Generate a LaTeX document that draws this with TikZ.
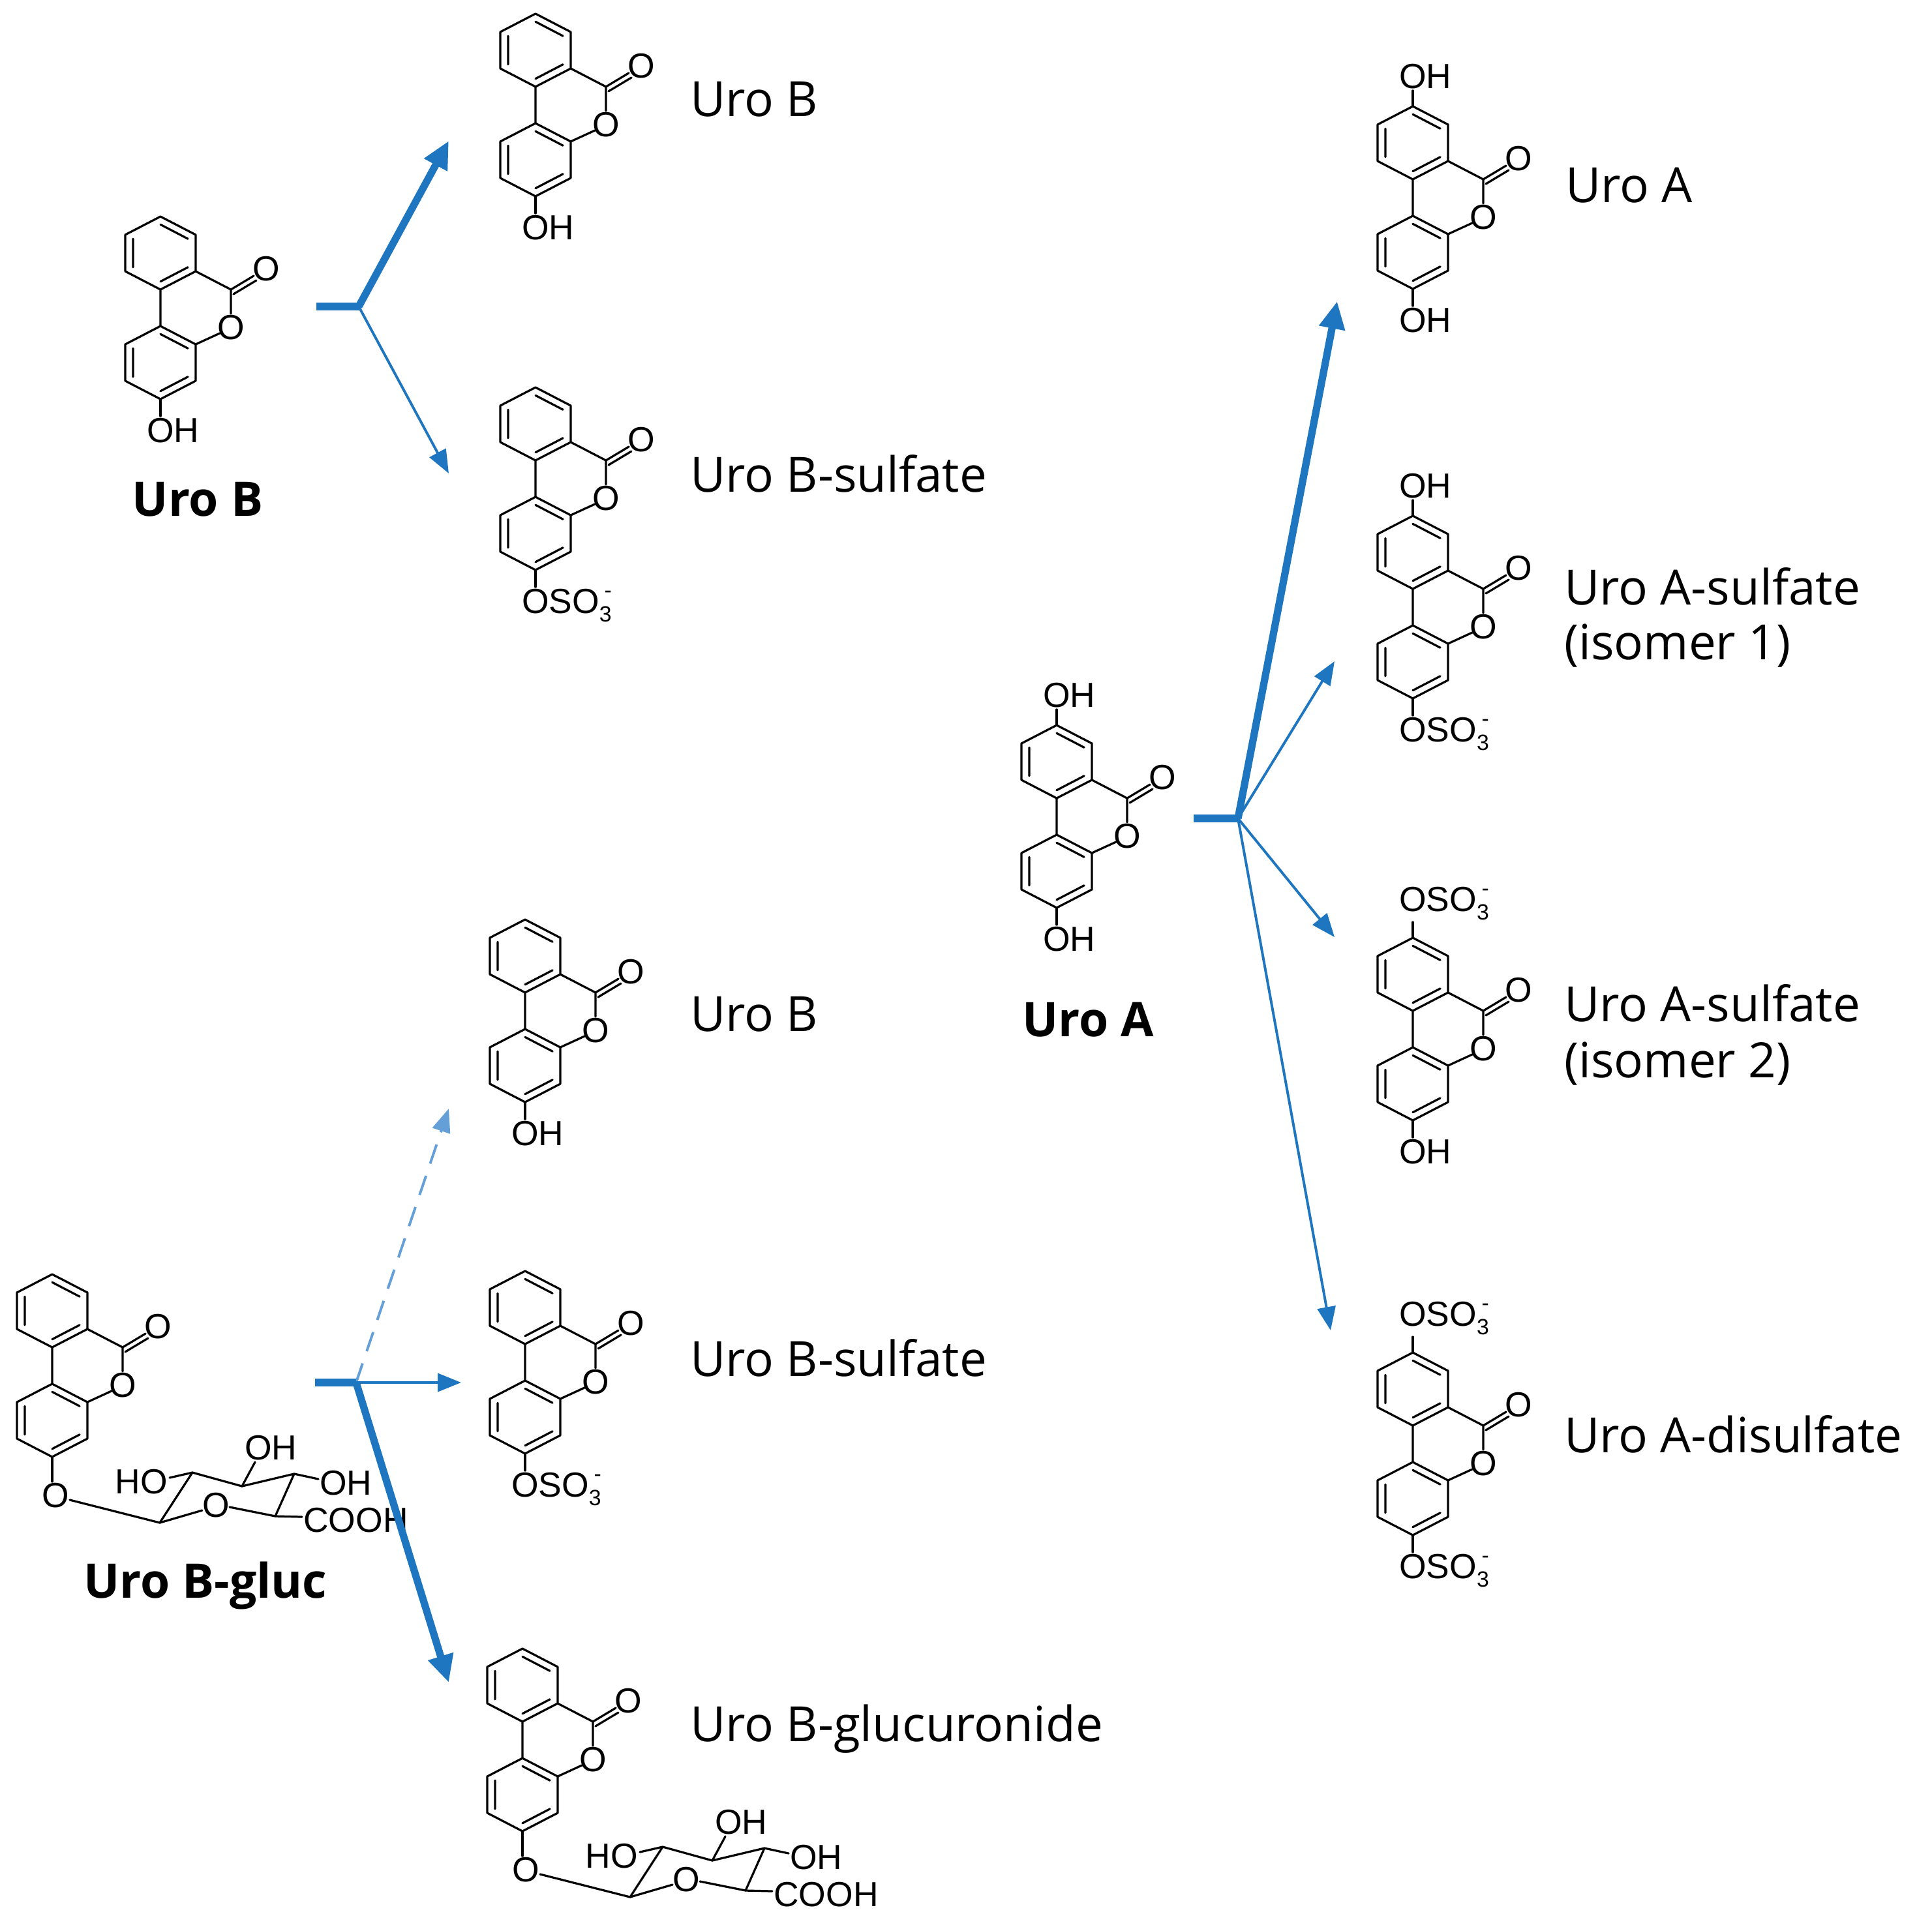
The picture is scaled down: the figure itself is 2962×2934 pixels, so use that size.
\documentclass[tikz,border=0pt]{standalone}
\usepackage{fontspec}
\setmainfont{Open Sans}
\newfontfamily\chemf{Liberation Sans}
\usetikzlibrary{arrows.meta}
\definecolor{arr}{RGB}{30,118,192}
\definecolor{arrl}{RGB}{100,160,215}
\tikzset{
 bond/.style={line width=2.3pt,line cap=round,line join=round},
 lab/.style={inner sep=0pt,font=\chemf\fontsize{38}{44}\selectfont},
 cname/.style={font=\fontsize{53}{62}\selectfont,anchor=west,inner sep=0pt},
 bname/.style={font=\bfseries\fontsize{52}{62}\selectfont,inner sep=0pt},
 thickarr/.style={arr,line width=8pt,-{Triangle[length=1.05cm,width=0.95cm]}},
 thinarr/.style={arr,line width=2.8pt,-{Triangle[length=0.9cm,width=0.7cm]}},
 dasharr/.style={arrl,line width=2.8pt,dash pattern=on 22pt off 14pt,-{Triangle[length=0.9cm,width=0.7cm]}},
 stub/.style={arr,line width=8pt}
}
\newcommand\uroskel[3]{%
\begin{scope}[shift={(#1,#2)}]
 \draw[bond] (0,-56)--(54,-28)--(54,28)--(0,56)--(-54,28)--(-54,-28)--cycle;
 \draw[bond] (0,-43.7)--(42.1,-21.8) (-42.1,21.8)--(-42.1,-21.8) (42.1,21.8)--(0,43.7);
 \draw[bond] (0,112)--(54,140)--(54,196)--(0,224)--(-54,196)--(-54,140)--cycle;
 \draw[bond] (0,124.3)--(42.1,146.2) (-42.1,189.8)--(-42.1,146.2) (42.1,189.8)--(0,211.7);
 \draw[bond] (0,56)--(0,112) (54,28)--(108,56)--(108,93) (91,123)--(54,140);
 \node[lab] at (108,114) {O};
 \draw[bond] (108,56)--(143,35) (112,63)--(147,42);
 \node[lab] at (162,24) {O};
 #3
\end{scope}}
\newcommand\topsub[1]{\draw[bond] (0,-56)--(0,-80); \node[lab,anchor=south] at (0,-83) {O\rlap{#1}};}
\newcommand\botsub[1]{\draw[bond] (0,224)--(0,250); \node[lab,anchor=north] at (0,253) {O\rlap{#1}};}
\newcommand\glucsub{%
 \draw[bond] (0,224)--(0,262);
 \node[lab] at (5,283) {O};
 \draw[bond] (27,290)--(165,325)--(215,248)--(291,269)--(371,250)--(342,315)--(272,301);
 \draw[bond] (230,306)--(165,325);
 \node[lab] at (251,298) {O};
 \draw[bond] (215,248)--(180,256); \node[lab,anchor=east] at (177,262) {HO};
 \draw[bond] (291,269)--(311,232); \node[lab,anchor=south] at (316,229) {O\rlap{H}};
 \draw[bond] (371,250)--(408,258); \node[lab,anchor=west] at (410,264) {OH};
 \draw[bond] (342,315)--(383,316); \node[lab,anchor=west] at (385,321) {COOH};
}
\def\sulf{SO{\fontsize{24}{24}\selectfont\raisebox{-9pt}{3}\raisebox{17pt}{\llap{-}}}}
\begin{document}
\begin{tikzpicture}[x=0.025cm,y=-0.025cm]
\useasboundingbox (0,0) rectangle (2962,2934);
% molecules
\uroskel{246}{388}{\botsub{H}}
\node[bname] (lUroB) at (303,766) {Uro B};
\uroskel{821}{77}{\botsub{H}}
\node[cname] (tUroB) at (1058,152) {Uro B};
\uroskel{821}{650}{\botsub{\sulf}}
\node[cname] (tUroBs) at (1058,726) {Uro B-sulfate};

\uroskel{1620}{1168}{\topsub{H}\botsub{H}}
\node[bname] (lUroA) at (1668,1564) {Uro A};
\uroskel{2166}{219}{\topsub{H}\botsub{H}}
\node[cname] (rUroA) at (2400,284) {Uro A};
\uroskel{2166}{847}{\topsub{H}\botsub{\sulf}}
\node[cname] (rUroAs1) at (2398,899) {Uro A-sulfate};
\node[cname] (iso1) at (2398,990) {(isomer 1)};
\uroskel{2166}{1494}{\topsub{\sulf}\botsub{H}}
\node[cname] (rUroAs2) at (2398,1538) {Uro A-sulfate};
\node[cname] (iso2) at (2398,1631) {(isomer 2)};
\uroskel{2166}{2130}{\topsub{\sulf}\botsub{\sulf}}
\node[cname] (rUroAd) at (2398,2199) {Uro A-disulfate};

\uroskel{80}{2010}{\glucsub}
\node[bname] (lUroBg) at (315,2431) {Uro B-gluc};
\uroskel{805}{1466}{\botsub{H}}
\node[cname] (bUroB) at (1058,1555) {Uro B};
\uroskel{805}{2005}{\botsub{\sulf}}
\node[cname] (bUroBs) at (1058,2082) {Uro B-sulfate};
\uroskel{801}{2584}{\glucsub}
\node[cname] (bUroBgl) at (1058,2651) {Uro B-glucuronide};

% arrows top-left
\coordinate (s1) at (485,470); \coordinate (j1) at (550,470);
\coordinate (t1a) at (688,216); \coordinate (t1b) at (688,726);
\draw[stub] (s1)--(j1);
\draw[thickarr] (j1)--(t1a);
\draw[thinarr] (j1)--(t1b);
% arrows right
\coordinate (s2) at (1830,1255); \coordinate (j2) at (1898,1255);
\coordinate (t2a) at (2050,462); \coordinate (t2b) at (2046,1014);
\coordinate (t2c) at (2046,1437); \coordinate (t2d) at (2040,2040);
\draw[stub] (s2)--(j2);
\draw[thickarr] (j2)--(t2a);
\draw[thinarr] (j2)--(t2b);
\draw[thinarr] (j2)--(t2c);
\draw[thinarr] (j2)--(t2d);
% arrows bottom-left
\coordinate (s3) at (483,2120); \coordinate (j3) at (546,2120);
\coordinate (t3a) at (688,1700); \coordinate (t3b) at (707,2120); \coordinate (t3c) at (688,2580);
\draw[dasharr] (j3)--(t3a);
\draw[thinarr] (j3)--(t3b);
\draw[stub] (s3)--(j3);
\draw[thickarr] (j3)--(t3c);
\end{tikzpicture}
\end{document}
